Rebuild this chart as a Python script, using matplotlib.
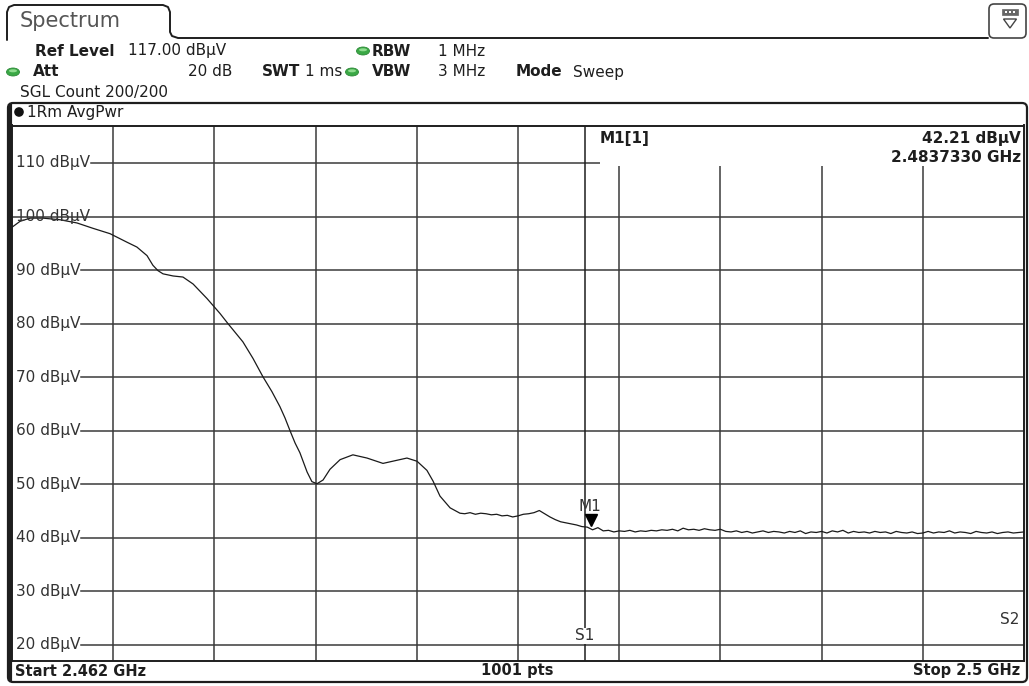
import matplotlib
matplotlib.use("Agg")
import matplotlib.pyplot as plt
import matplotlib.transforms as mtransforms
from matplotlib.patches import FancyBboxPatch, Ellipse, Rectangle, Polygon, Circle

# ---------------- data ----------------
START_GHZ = 2.462
STOP_GHZ = 2.5
REF_LEVEL = 117.0
BOTTOM_LEVEL = 17.0

level_ticks = [20, 30, 40, 50, 60, 70, 80, 90, 100, 110]
level_tick_labels = ["20 dBµV", "30 dBµV", "40 dBµV", "50 dBµV", "60 dBµV",
                     "70 dBµV", "80 dBµV", "90 dBµV", "100 dBµV", "110 dBµV"]

# trace: offset from start frequency (MHz) and level (dBµV)
offset_mhz = [0.00, 0.30, 0.68, 1.16, 1.80, 2.44, 3.04, 3.68, 4.32, 4.69, 5.07, 5.29,
              5.48, 5.67, 6.05, 6.42, 6.80, 7.17, 7.32, 7.55, 7.81, 8.11, 8.67, 9.05,
              9.42, 9.76, 10.06, 10.25, 10.44, 10.63,
              10.81, 11.08, 11.26, 11.45, 11.68, 11.94, 12.32, 12.80, 13.33, 13.93,
              14.46, 14.83, 15.21, 15.58, 15.81, 16.07, 16.45, 16.82,
              17.0, 17.2, 17.4, 17.6, 17.8, 18.0, 18.2, 18.4, 18.6, 18.8,
              19.0, 19.2, 19.4, 19.6, 19.8, 20.0, 20.2, 20.4, 20.6, 20.8,
              21.0, 21.2, 21.4, 21.6, 21.8, 22.0, 22.2, 22.4, 22.6, 22.8,
              23.0, 23.2, 23.4, 23.6, 23.8, 24.0, 24.2, 24.4, 24.6, 24.8,
              25.0, 25.2, 25.4, 25.6, 25.8, 26.0, 26.2, 26.4, 26.6, 26.8,
              27.0, 27.2, 27.4, 27.6, 27.8, 28.0, 28.2, 28.4, 28.6, 28.8,
              29.0, 29.2, 29.4, 29.6, 29.8, 30.0, 30.2, 30.4, 30.6, 30.8,
              31.0, 31.2, 31.4, 31.6, 31.8, 32.0, 32.2, 32.4, 32.6, 32.8,
              33.0, 33.2, 33.4, 33.6, 33.8, 34.0, 34.2, 34.4, 34.6, 34.8,
              35.0, 35.2, 35.4, 35.6, 35.8, 36.0, 36.2, 36.4, 36.6, 36.8,
              37.0, 37.2, 37.4, 37.6, 37.8, 38.0]
level_dbuv = [98.0, 99.1, 99.7, 99.7, 99.4, 98.8, 97.8, 96.8, 95.2, 94.3, 92.7, 90.9,
              89.9, 89.3, 88.9, 88.7, 87.4, 85.5, 84.7, 83.4, 81.9, 80.0, 76.6, 73.5,
              70.1, 67.3, 64.5, 62.4, 60.0, 57.7,
              55.9, 52.3, 50.5, 50.1, 50.8, 52.8, 54.6, 55.5, 54.9, 53.9,
              54.5, 54.9, 54.3, 52.6, 50.6, 47.8, 45.6, 44.6,
              44.5, 44.7, 44.4, 44.6, 44.5, 44.3, 44.4, 44.1, 44.2, 43.9,
              44.1, 44.4, 44.5, 44.7, 45.1, 44.5, 43.9, 43.4, 43.0, 42.8,
              42.6, 42.4, 42.1, 42.0, 41.5, 41.9, 41.3, 41.4, 41.1, 41.3,
              41.2, 41.4, 41.1, 41.3, 41.2, 41.4, 41.3, 41.5, 41.4, 41.6,
              41.3, 41.8, 41.5, 41.6, 41.4, 41.7, 41.5, 41.4, 41.6, 41.2,
              41.1, 41.3, 41.0, 41.2, 40.9, 41.1, 41.3, 41.0, 41.2, 41.1,
              40.9, 41.2, 41.0, 41.3, 40.8, 41.1, 41.0, 41.2, 40.9, 41.3,
              41.1, 41.4, 40.9, 41.2, 41.0, 41.1, 40.9, 41.2, 41.0, 41.1,
              40.8, 41.2, 41.0, 40.9, 41.1, 40.8, 40.9, 41.2, 40.9, 41.1,
              41.0, 41.3, 40.9, 41.1, 41.0, 40.8, 41.2, 41.0, 40.9, 41.1,
              40.8, 41.0, 41.1, 40.9, 41.0, 41.1]
freq_ghz = [START_GHZ + m / 1000.0 for m in offset_mhz]

marker_freq_ghz = 2.483733
marker_level = 42.21
s1_freq_ghz = 2.4835

# ---------------- layout ----------------
W, H = 1029, 686
GRID_L, GRID_R, GRID_T, GRID_B = 12, 1024, 125.5, 661
INK = "#1e1e1e"
GRIDC = "#3a3a3a"
FS = 11

fig = plt.figure(figsize=(W / 100, H / 100), dpi=100)
fig.patch.set_facecolor("white")

deco = fig.add_axes([0, 0, 1, 1])
deco.set_xlim(0, W)
deco.set_ylim(H, 0)
deco.axis("off")

# tab "Spectrum"
tab_x = [7, 7, 9, 14, 163, 168, 170, 170, 172, 178, 988]
tab_y = [40, 12, 7, 5, 5, 7, 12, 32, 36, 38, 38]
deco.plot(tab_x, tab_y, color=INK, lw=1.4, solid_capstyle="round")
deco.text(20, 21, "Spectrum", fontsize=15, color="#555555", va="center", ha="left")

# icon top right
deco.add_patch(FancyBboxPatch((989, 4), 37, 34, boxstyle="round,pad=0,rounding_size=5",
                              fc="white", ec="#444444", lw=1.2))
deco.add_patch(Rectangle((1002, 9), 16, 6, fc="#666666", ec="#666666", lw=0.5))
for dx in (1005, 1009, 1013):
    deco.add_patch(Rectangle((dx, 10.5), 2, 2.5, fc="white", ec="none"))
deco.add_patch(Polygon([[1003.5, 19], [1016.5, 19], [1010, 28]], closed=True,
                       fc="white", ec="#444444", lw=1.0))

# header
def lbl(x, y, s, bold=False, ha="left", **kw):
    deco.text(x, y, s, fontsize=kw.pop("fs", FS), color=INK, va="center", ha=ha,
              fontweight="bold" if bold else "normal", **kw)

def led(x, y):
    deco.add_patch(Ellipse((x, y), 13, 8, fc="#3aa845", ec="#2d8a38", lw=0.6))
    deco.add_patch(Ellipse((x, y - 1.2), 8, 3, fc="#8fdc8f", ec="none"))

lbl(35, 51, "Ref Level", bold=True)
lbl(128, 51, "117.00 dBµV")
led(363, 51)
lbl(372, 51, "RBW", bold=True)
lbl(438, 51, "1 MHz")
led(13, 72)
lbl(33, 72, "Att", bold=True)
lbl(232, 72, "20 dB", ha="right")
lbl(262, 72, "SWT", bold=True)
lbl(305, 72, "1 ms")
led(352, 72)
lbl(372, 72, "VBW", bold=True)
lbl(438, 72, "3 MHz")
lbl(516, 72, "Mode", bold=True)
lbl(573, 72, "Sweep")
lbl(20, 92, "SGL Count 200/200")

# plot frame
deco.add_patch(FancyBboxPatch((8, 103), 1019, 579, boxstyle="round,pad=0,rounding_size=5",
                              fc="white", ec=INK, lw=1.6))
deco.plot([9.5, 9.5], [106, 679], color=INK, lw=3.0)
deco.add_patch(Circle((19, 112), 4.8, fc="#111111", ec="none"))
lbl(27, 112, "1Rm AvgPwr")

# bottom bar
lbl(15, 671, "Start 2.462 GHz", bold=True, fs=10.5)
lbl(517, 671, "1001 pts", bold=True, ha="center", fs=10.5)
lbl(1020, 671, "Stop 2.5 GHz", bold=True, ha="right", fs=10.5)

# ---------------- measurement axes ----------------
ax = fig.add_axes([GRID_L / W, (H - GRID_B) / H, (GRID_R - GRID_L) / W, (GRID_B - GRID_T) / H])
ax.set_facecolor("white")
ax.set_xlim(START_GHZ, STOP_GHZ)
ax.set_ylim(BOTTOM_LEVEL, REF_LEVEL)
ax.set_xticks([])
ax.set_yticks([])
for sp in ax.spines.values():
    sp.set_color(INK)
    sp.set_linewidth(1.4)

def px_to_axx(px):
    return (px - GRID_L) / (GRID_R - GRID_L)

def px_to_axy(py):
    return 1 - (py - GRID_T) / (GRID_B - GRID_T)

# vertical grid
span = STOP_GHZ - START_GHZ
for i in range(1, 10):
    ax.axvline(START_GHZ + i * span / 10, color=GRIDC, lw=1.1, zorder=1)

# horizontal grid with labels
fig.canvas.draw()
renderer = fig.canvas.get_renderer()
inv = ax.transAxes.inverted()
for v, s in zip(level_ticks, level_tick_labels):
    t = ax.text(px_to_axx(16), v, s, transform=ax.get_yaxis_transform(),
                fontsize=FS, color="#333333", va="center", ha="left", zorder=4)
    bb = t.get_window_extent(renderer)
    x_end = inv.transform((bb.x1 + 1, 0))[0]
    xmin = 0.0 if v == 100 else x_end
    xmax = px_to_axx(600) if v == 110 else 1.0
    ax.axhline(v, xmin=xmin, xmax=xmax, color=GRIDC, lw=1.1, zorder=1)

# marker info box
ax.add_patch(Rectangle((px_to_axx(600), px_to_axy(166)), 1 - px_to_axx(600), 1 - px_to_axy(166),
                       transform=ax.transAxes, fc="white", ec="none", zorder=2))
ax.text(px_to_axx(600), px_to_axy(139), "M1[1]", transform=ax.transAxes, fontsize=FS,
        fontweight="bold", color=INK, va="center", ha="left", zorder=5)
ax.text(px_to_axx(1021), px_to_axy(139), f"{marker_level:.2f} dBµV", transform=ax.transAxes,
        fontsize=FS, fontweight="bold", color=INK, va="center", ha="right", zorder=5)
ax.text(px_to_axx(1021), px_to_axy(157), f"{marker_freq_ghz:.7f} GHz", transform=ax.transAxes,
        fontsize=FS, fontweight="bold", color=INK, va="center", ha="right", zorder=5)

# search limit lines
ax.axvline(s1_freq_ghz, color=INK, lw=1.1, zorder=1)
ax.text(s1_freq_ghz, px_to_axy(636), "S1", transform=ax.get_xaxis_transform(), fontsize=FS,
        color="#333333", va="center", ha="center", zorder=4,
        bbox=dict(fc="white", ec="none", pad=0.3))
ax.text(px_to_axx(1019), px_to_axy(620), "S2", transform=ax.transAxes, fontsize=FS,
        color="#333333", va="center", ha="right", zorder=4)

# trace
ax.plot(freq_ghz, level_dbuv, color="#1a1a1a", lw=0.9, zorder=3)

# marker
tri = mtransforms.offset_copy(ax.transData, fig=fig, x=0, y=6, units="dots")
ax.plot([marker_freq_ghz], [marker_level], marker="v", ms=8, color="black", transform=tri, zorder=6)
lab = mtransforms.offset_copy(ax.transData, fig=fig, x=-1, y=20, units="dots")
ax.text(marker_freq_ghz, marker_level, "M1", transform=lab, fontsize=FS, color="#333333",
        va="center", ha="center", zorder=6)

fig.savefig("out.png", dpi=100, facecolor="white")
